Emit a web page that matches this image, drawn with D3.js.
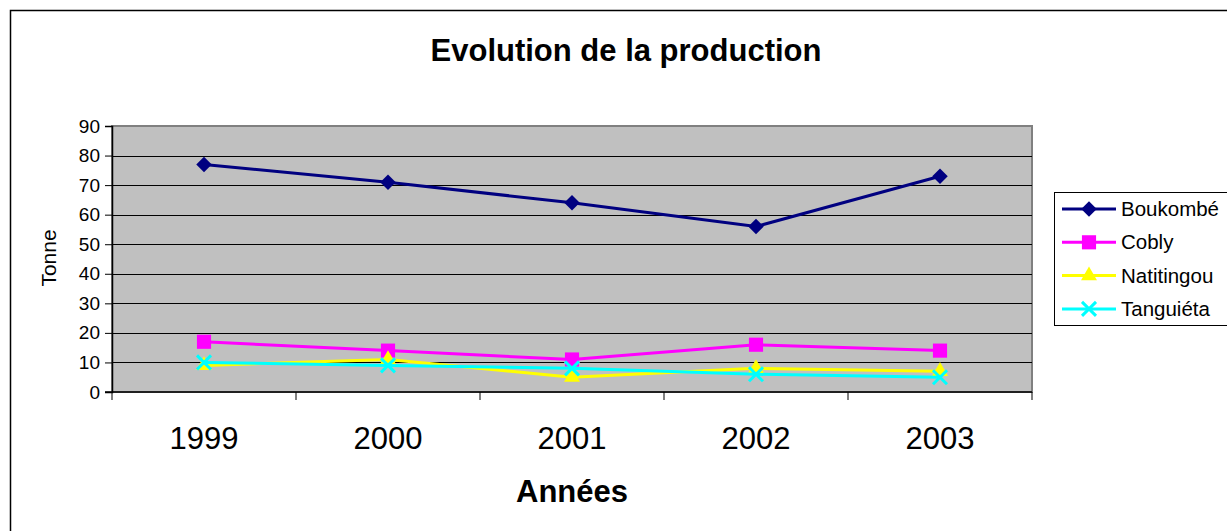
<!DOCTYPE html>
<html>
<head>
<meta charset="utf-8">
<script src="https://cdn.jsdelivr.net/npm/d3@7"></script>
<style>
  body { margin: 0; background: #fff; }
  svg { display: block; font-family: Arial, "Liberation Sans", sans-serif; }
</style>
</head>
<body>
<svg id="chart" width="1227" height="531"></svg>
<script>
// data
var years = ["1999", "2000", "2001", "2002", "2003"];
var yTicks = [0, 10, 20, 30, 40, 50, 60, 70, 80, 90];
var boukombe = [77, 71, 64, 56, 73];
var cobly = [17, 14, 11, 16, 14];
var natitingou = [9, 11, 5, 8, 7];
var tanguieta = [10, 9, 8, 6, 5];
var seriesNames = ["Boukombé", "Cobly", "Natitingou", "Tanguiéta"];

var series = [
    { name: seriesNames[0], values: boukombe, color: "#000080", marker: "diamond" },
    { name: seriesNames[1], values: cobly, color: "#ff00ff", marker: "square" },
    { name: seriesNames[2], values: natitingou, color: "#ffff00", marker: "triangle" },
    { name: seriesNames[3], values: tanguieta, color: "#00ffff", marker: "x" }
];

var svg = d3.select("#chart");

// outer chart border (runs off the right/bottom edge)
svg.append("rect")
    .attr("x", 10.5).attr("y", 10.5)
    .attr("width", 1240).attr("height", 540)
    .attr("fill", "#fff").attr("stroke", "#000").attr("stroke-width", 1.5);

var plot = { left: 112, right: 1032, top: 126, bottom: 392 };

var x = d3.scaleBand().domain(years).range([plot.left, plot.right]).padding(0);
var y = d3.scaleLinear().domain([0, 90]).range([plot.bottom, plot.top]);

// plot area
svg.append("rect")
    .attr("x", plot.left).attr("y", plot.top)
    .attr("width", plot.right - plot.left).attr("height", plot.bottom - plot.top)
    .attr("fill", "#c0c0c0").attr("stroke", "#808080").attr("stroke-width", 2);

// gridlines
svg.append("g").selectAll("line")
    .data(yTicks.filter(function (d) { return d > 0 && d < 90; }))
    .enter().append("line")
    .attr("x1", plot.left).attr("x2", plot.right)
    .attr("y1", function (d) { return Math.round(y(d)) + 0.5; })
    .attr("y2", function (d) { return Math.round(y(d)) + 0.5; })
    .attr("stroke", "#000").attr("stroke-width", 1);

// y axis
var yAxis = svg.append("g")
    .attr("transform", "translate(" + plot.left + ",0)")
    .call(d3.axisLeft(y).tickValues(yTicks).tickSize(7).tickPadding(5));
yAxis.select(".domain").attr("stroke", "#000").attr("stroke-width", 1.5);
yAxis.selectAll(".tick line").attr("stroke", "#000");
yAxis.selectAll("text").attr("font-size", 19).attr("fill", "#000")
    .attr("font-family", "Arial, 'Liberation Sans', sans-serif");

// x axis: ticks between categories
var xAxisG = svg.append("g");
xAxisG.append("line")
    .attr("x1", plot.left - 7).attr("x2", plot.right)
    .attr("y1", plot.bottom).attr("y2", plot.bottom)
    .attr("stroke", "#000").attr("stroke-width", 1.5);
var edges = years.map(function (d) { return x(d); }).concat([plot.right]);
xAxisG.selectAll("line.tk").data(edges).enter().append("line")
    .attr("class", "tk")
    .attr("x1", function (d) { return d; }).attr("x2", function (d) { return d; })
    .attr("y1", plot.bottom).attr("y2", plot.bottom + 8)
    .attr("stroke", "#000").attr("stroke-width", 1);
xAxisG.selectAll("text").data(years).enter().append("text")
    .attr("x", function (d) { return x(d) + x.bandwidth() / 2; })
    .attr("y", 449)
    .attr("text-anchor", "middle")
    .attr("font-size", 31)
    .text(function (d) { return d; });

// titles
svg.append("text")
    .attr("x", 626).attr("y", 61)
    .attr("text-anchor", "middle")
    .attr("font-size", 31).attr("font-weight", "bold")
    .text("Evolution de la production");

svg.append("text")
    .attr("x", 572).attr("y", 502)
    .attr("text-anchor", "middle")
    .attr("font-size", 31).attr("font-weight", "bold")
    .text("Années");

svg.append("text")
    .attr("transform", "translate(56,258) rotate(-90)")
    .attr("text-anchor", "middle")
    .attr("font-size", 21)
    .text("Tonne");

function drawMarker(g, type, color) {
    if (type == "diamond") {
        g.append("path").attr("d", d3.symbol().type(d3.symbolSquare).size(120)())
            .attr("transform", "rotate(45)").attr("fill", color);
    } else if (type == "square") {
        g.append("path").attr("d", d3.symbol().type(d3.symbolSquare).size(200)())
            .attr("fill", color);
    } else if (type == "triangle") {
        g.append("path").attr("d", d3.symbol().type(d3.symbolTriangle).size(110)())
            .attr("fill", color);
    } else {
        g.append("path").attr("d", d3.symbol().type(d3.symbolX).size(130)())
            .attr("fill", "none").attr("stroke", color).attr("stroke-width", 3);
    }
}

var line = d3.line()
    .x(function (d, i) { return x(years[i]) + x.bandwidth() / 2; })
    .y(function (d) { return y(d); });

series.forEach(function (s) {
    var g = svg.append("g");
    g.append("path")
        .attr("d", line(s.values))
        .attr("fill", "none")
        .attr("stroke", s.color)
        .attr("stroke-width", 3);
    s.values.forEach(function (v, i) {
        var m = g.append("g")
            .attr("transform", "translate(" + (x(years[i]) + x.bandwidth() / 2) + "," + y(v) + ")");
        drawMarker(m, s.marker, s.color);
    });
});

// legend
var legend = svg.append("g");
legend.append("rect")
    .attr("x", 1054.5).attr("y", 192.5)
    .attr("width", 190).attr("height", 133)
    .attr("fill", "#fff").attr("stroke", "#000").attr("stroke-width", 1);

series.forEach(function (s, i) {
    var cy = 209 + i * 33.3;
    var row = legend.append("g");
    row.append("line")
        .attr("x1", 1062).attr("x2", 1116)
        .attr("y1", cy).attr("y2", cy)
        .attr("stroke", s.color).attr("stroke-width", 3);
    var m = row.append("g").attr("transform", "translate(1089," + cy + ")");
    drawMarker(m, s.marker, s.color);
    row.append("text")
        .attr("x", 1121).attr("y", cy + 7)
        .attr("font-size", 20.5)
        .text(s.name);
});
</script>
</body>
</html>
